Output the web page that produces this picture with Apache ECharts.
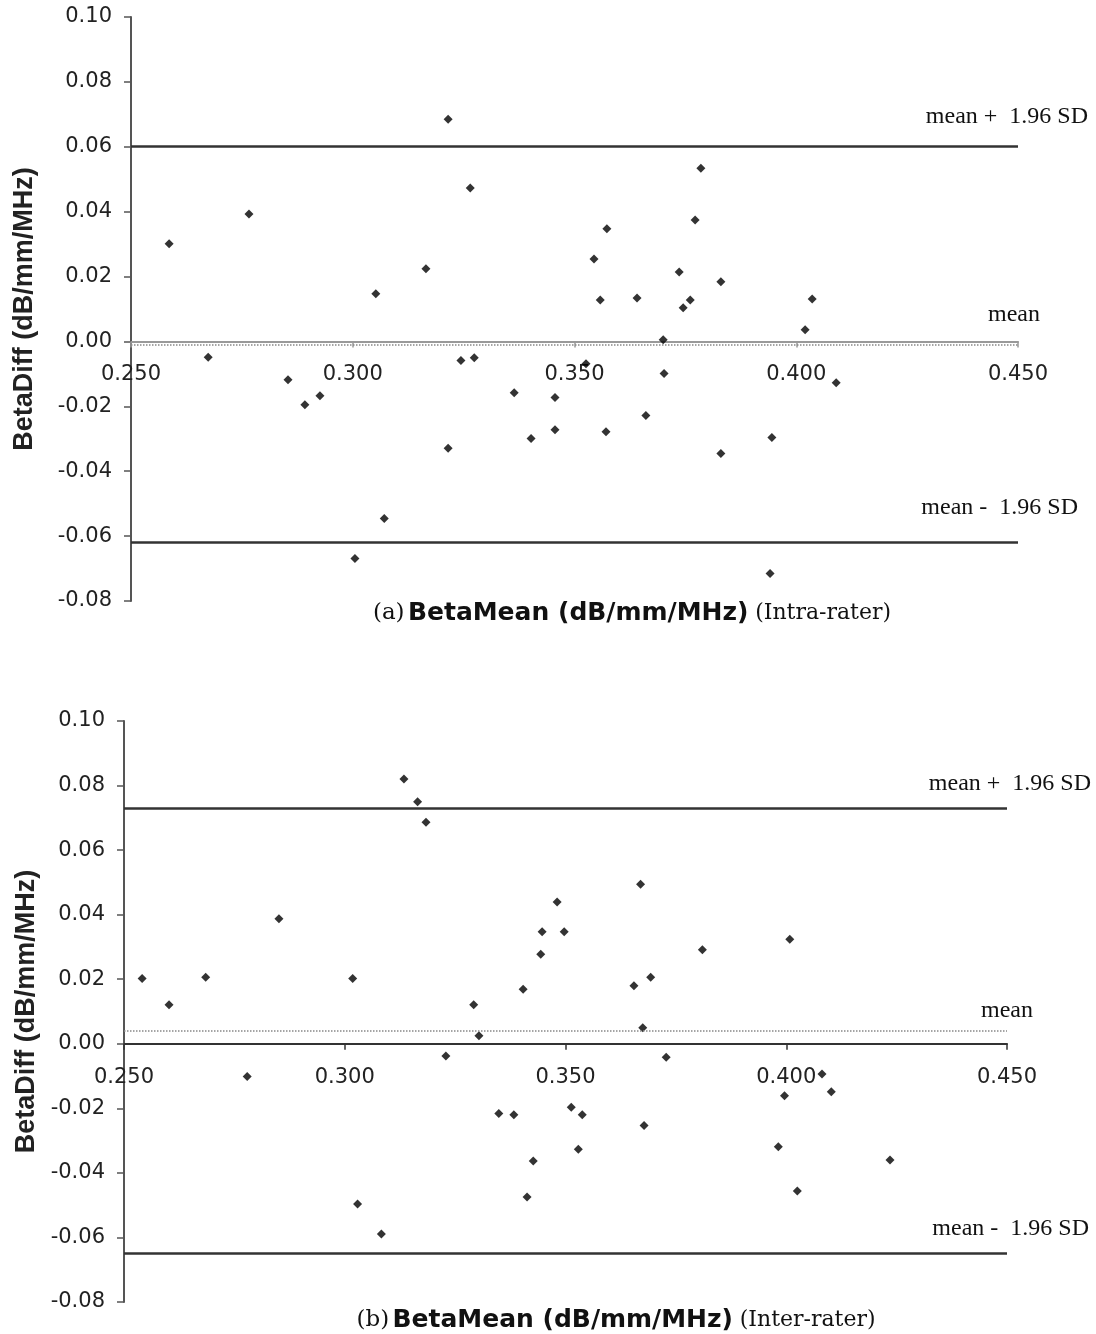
<!DOCTYPE html>
<html>
<head>
<meta charset="utf-8">
<script src="https://cdn.jsdelivr.net/npm/echarts@6/dist/echarts.min.js"></script>
<style>
  html, body { margin: 0; background: #fff; }
  #main { width: 1096px; height: 1334px; }
</style>
</head>
<body>
<div id="main"></div>
<script>
// (a) intra-rater
var topBetaMean = [0.2586, 0.2674, 0.2766, 0.2854, 0.2892, 0.2926, 0.3005, 0.3052, 0.3071, 0.3165,
  0.3215, 0.3215, 0.3244, 0.3265, 0.3274, 0.3364, 0.3402, 0.3456, 0.3456, 0.3526,
  0.3544, 0.3558, 0.3573, 0.3571, 0.3641, 0.3661, 0.3700, 0.3702, 0.3736, 0.3745,
  0.3761, 0.3772, 0.3785, 0.3830, 0.3830, 0.3941, 0.3945, 0.4020, 0.4036, 0.4090];
var topBetaDiff = [0.0301, -0.0049, 0.0393, -0.0118, -0.0195, -0.0167, -0.0669, 0.0147, -0.0546, 0.0224,
  0.0685, -0.0329, -0.0059, 0.0473, -0.0050, -0.0158, -0.0299, -0.0173, -0.0272, -0.0069,
  0.0254, 0.0128, 0.0347, -0.0278, 0.0134, -0.0228, 0.0005, -0.0099, 0.0214, 0.0104,
  0.0128, 0.0374, 0.0534, 0.0184, -0.0345, -0.0715, -0.0296, 0.0036, 0.0131, -0.0127];
var topLimits = [0.0602, -0.0009, -0.0620];

// (b) inter-rater
var bottomBetaMean = [0.2541, 0.2602, 0.2685, 0.2779, 0.2851, 0.3018, 0.3029, 0.3083, 0.3134, 0.3165,
  0.3184, 0.3229, 0.3292, 0.3304, 0.3349, 0.3383, 0.3404, 0.3413, 0.3427, 0.3444,
  0.3447, 0.3481, 0.3497, 0.3513, 0.3529, 0.3538, 0.3655, 0.3670, 0.3675, 0.3678,
  0.3693, 0.3728, 0.3810, 0.3982, 0.3996, 0.4008, 0.4025, 0.4081, 0.4102, 0.4235];
var bottomBetaDiff = [0.0202, 0.0121, 0.0206, -0.0101, 0.0387, 0.0202, -0.0496, -0.0589, 0.0820, 0.0750,
  0.0686, -0.0038, 0.0121, 0.0025, -0.0216, -0.0220, 0.0169, -0.0475, -0.0363, 0.0277,
  0.0347, 0.0439, 0.0347, -0.0197, -0.0327, -0.0220, 0.0180, 0.0494, 0.0050, -0.0253,
  0.0206, -0.0042, 0.0291, -0.0319, -0.0161, 0.0324, -0.0456, -0.0094, -0.0149, -0.0360];
var bottomLimits = [0.0730, 0.0041, -0.0648];

var limitNames = ['mean +  1.96 SD', 'mean', 'mean -  1.96 SD'];
var xRange = [0.25, 0.45, 0.05];
var yRange = [-0.08, 0.10, 0.02];

var grids = [
  { left: 131, right: 78, top: 17, height: 584 },
  { left: 124, right: 89, top: 721, height: 581 }
];

function pairs(xs, ys) {
  return xs.map(function (x, i) { return [x, ys[i]]; });
}

function xAxisFor(idx, lineColor) {
  // x axis crosses at BetaDiff = 0
  var lift = grids[idx].height * (0 - yRange[0]) / (yRange[1] - yRange[0]);
  return {
    gridIndex: idx, type: 'value',
    min: xRange[0], max: xRange[1], interval: xRange[2],
    offset: -lift,
    axisLine: { onZero: true, onZeroAxisIndex: idx, lineStyle: { color: lineColor, width: 2 } },
    axisTick: { show: true, length: 6, lineStyle: { color: lineColor, width: 1.5 } },
    axisLabel: {
      margin: 23, color: '#222', fontFamily: 'DejaVu Sans', fontSize: 21,
      formatter: function (v) { return v.toFixed(3); }
    },
    splitLine: { show: false }
  };
}

function yAxisFor(idx, gap) {
  return {
    gridIndex: idx, type: 'value',
    min: yRange[0], max: yRange[1], interval: yRange[2],
    name: 'BetaDiff (dB/mm/MHz)', nameLocation: 'middle', nameGap: gap,
    nameTextStyle: { fontFamily: 'Liberation Sans', fontWeight: 'bold', fontSize: 27, color: '#222' },
    axisLine: { show: true, onZero: false, lineStyle: { color: '#555', width: 2 } },
    axisTick: { show: true, length: 7, lineStyle: { color: '#555', width: 1.5 } },
    axisLabel: {
      margin: 19, color: '#222', fontFamily: 'DejaVu Sans', fontSize: 21,
      formatter: function (v) { return Math.abs(v) < 1e-9 ? '0.00' : v.toFixed(2); }
    },
    splitLine: { show: false }
  };
}

// offsets of the text beside each limit line: [right shift, lift]
function limitLines(limits, offsets) {
  return limits.map(function (v, i) {
    var isMean = i === 1;
    return {
      yAxis: v, name: limitNames[i],
      lineStyle: isMean ? { type: 'dotted', color: '#888', width: 1.5 }
                        : { type: 'solid', color: '#333', width: 2.5 },
      label: {
        show: true, formatter: '{b}', position: 'insideEndTop', distance: 0,
        offset: offsets[i], color: '#111',
        fontFamily: 'Liberation Serif', fontSize: 24
      }
    };
  });
}

function scatterFor(idx, xs, ys, limits, offsets) {
  return {
    type: 'scatter', xAxisIndex: idx, yAxisIndex: idx,
    data: pairs(xs, ys),
    symbol: 'diamond', symbolSize: 9,
    itemStyle: { color: '#000' },
    markLine: {
      silent: true, symbol: 'none', animation: false, precision: 4,
      data: limitLines(limits, offsets)
    }
  };
}

function titleText(x, y, tag, rater) {
  return {
    type: 'text', x: x, y: y,
    style: {
      text: '{a|' + tag + '} {b|BetaMean (dB/mm/MHz)}  {c|' + rater + '}',
      align: 'center', verticalAlign: 'middle',
      rich: {
        a: { fontFamily: 'DejaVu Serif', fontSize: 23, fill: '#111' },
        b: { fontFamily: 'DejaVu Sans', fontWeight: 'bold', fontSize: 25, fill: '#111' },
        c: { fontFamily: 'DejaVu Serif', fontSize: 22, fill: '#111' }
      }
    }
  };
}

var chart = echarts.init(document.getElementById('main'));
var option = {
  backgroundColor: '#fff',
  animation: false,
  grid: grids.map(function (g) {
    return Object.assign({ outerBoundsMode: 'none', containLabel: false }, g);
  }),
  xAxis: [xAxisFor(0, '#999'), xAxisFor(1, '#333')],
  yAxis: [yAxisFor(0, 93), yAxisFor(1, 83)],
  series: [
    scatterFor(0, topBetaMean, topBetaDiff, topLimits, [[70, -17], [22, -18], [60, -23]]),
    scatterFor(1, bottomBetaMean, bottomBetaDiff, bottomLimits, [[84, -12], [26, -8], [82, -12]])
  ],
  graphic: [
    titleText(632, 613, '(a)', '(Intra-rater)'),
    titleText(616, 1320, '(b)', '(Inter-rater)')
  ]
};
option && chart.setOption(option);
</script>
</body>
</html>
